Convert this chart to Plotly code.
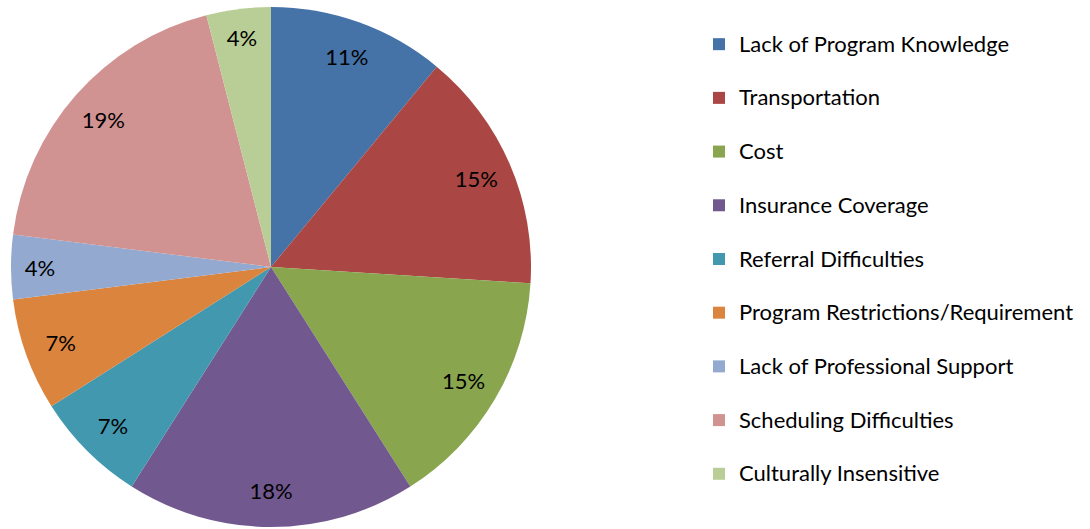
import plotly.graph_objects as go

categories = [
    "Lack of Program Knowledge",
    "Transportation",
    "Cost",
    "Insurance Coverage",
    "Referral Difficulties",
    "Program Restrictions/Requirement",
    "Lack of Professional Support",
    "Scheduling Difficulties",
    "Culturally Insensitive",
]
values = [11, 15, 15, 18, 7, 7, 4, 19, 4]
colors = ["#4572A7", "#AA4643", "#89A54E", "#71588F", "#4198AF",
          "#DB843D", "#93A9CF", "#D19392", "#B9CD96"]

W, H = 1090, 529
cx, cy, R = 271, 267, 260
FONT = "Lato"

legend_labels = ["<span style='font-size:22px'>" + c + "</span><br> " for c in categories]
domain = dict(x=[(cx - R) / W, (cx + R) / W],
              y=[(H - cy - R) / H, (H - cy + R) / H])

fig = go.Figure()
# filled slices + legend
fig.add_trace(go.Pie(
    labels=legend_labels,
    values=values,
    sort=False,
    direction="clockwise",
    rotation=0,
    marker=dict(colors=colors, line=dict(width=0)),
    textinfo="none",
    domain=domain,
    hoverinfo="label+percent",
))
# transparent ring carrying the percentage labels near the rim
fig.add_trace(go.Pie(
    labels=legend_labels,
    values=values,
    sort=False,
    direction="clockwise",
    rotation=0,
    hole=0.72,
    marker=dict(colors=["rgba(0,0,0,0)"] * len(values), line=dict(width=0)),
    texttemplate="%{percent:.0%}",
    textposition="inside",
    insidetextorientation="horizontal",
    textfont=dict(family=FONT, size=22, color="black"),
    domain=domain,
    showlegend=False,
    hoverinfo="skip",
))

fig.update_layout(
    width=W, height=H,
    margin=dict(l=0, r=0, t=0, b=0),
    paper_bgcolor="white",
    plot_bgcolor="white",
    font=dict(family=FONT, size=20, color="black"),
    legend=dict(
        x=699 / W, xanchor="left",
        y=1 - 25 / H, yanchor="top",
        valign="top",
        font=dict(family=FONT, size=19.5, color="black"),
        bgcolor="rgba(0,0,0,0)",
    ),
    showlegend=True,
)

fig.write_html(
    "out.html",
    config={"displayModeBar": False},
    post_script="document.body.style.margin='0';document.body.style.overflow='hidden';",
)
